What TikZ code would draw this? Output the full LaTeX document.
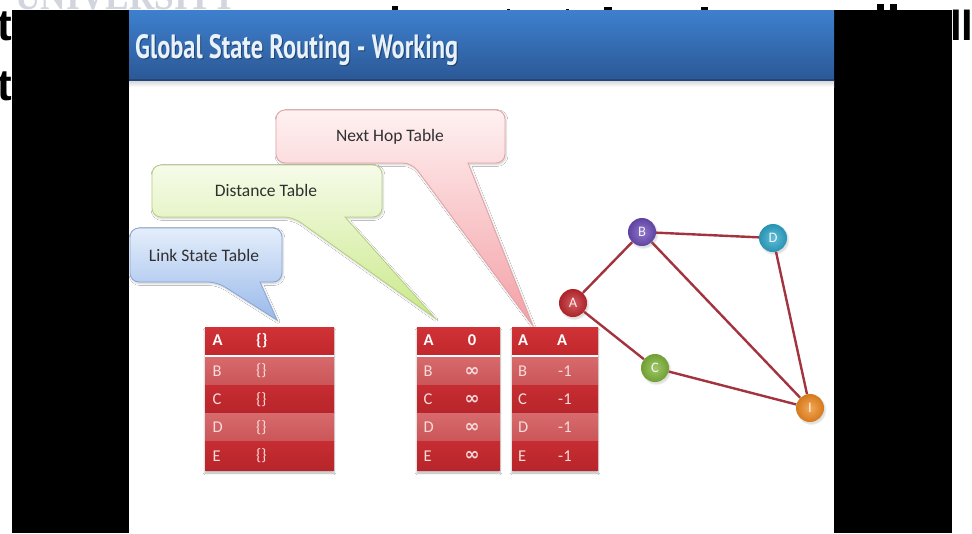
\documentclass[tikz,border=0pt]{standalone}
\usepackage{fontspec}
\setmainfont{Carlito}
\newfontfamily\titlefont{PT Sans}
\newfontfamily\bigfont{Liberation Sans}
\newfontfamily\wmfont{Liberation Serif}
\newfontfamily\symfont{DejaVu Sans}
\usetikzlibrary{shadows.blur}

\definecolor{barTop}{HTML}{3E80CE}
\definecolor{barMid}{HTML}{3570B9}
\definecolor{barBot}{HTML}{2B5896}
\definecolor{titleTxt}{HTML}{E8F2FB}
\definecolor{labelTxt}{HTML}{303030}
\definecolor{cellTxt}{HTML}{F7DCDC}
\definecolor{hdrTop}{HTML}{D03236}
\definecolor{hdrBot}{HTML}{C2282D}
\definecolor{lightTop}{HTML}{D76A6C}
\definecolor{lightBot}{HTML}{CA5558}
\definecolor{darkTop}{HTML}{C62D32}
\definecolor{darkBot}{HTML}{B7252A}
\definecolor{edgeRed}{HTML}{A3343F}
\definecolor{nodeA}{HTML}{C3272D}
\definecolor{nodeB}{HTML}{6B4BB8}
\definecolor{nodeC}{HTML}{7FB539}
\definecolor{nodeD}{HTML}{2DA7CB}
\definecolor{nodeI}{HTML}{F18A1F}
\definecolor{wmGray}{HTML}{D2D5DE}
\definecolor{pinkLine}{HTML}{E3A0A3}
\definecolor{pinkTop}{HTML}{FFF1F1}
\definecolor{pinkMid}{HTML}{FACDCE}
\definecolor{pinkBot}{HTML}{F3A0A6}
\definecolor{greenLine}{HTML}{B5CF7E}
\definecolor{greenTop}{HTML}{F6FBE9}
\definecolor{greenMid}{HTML}{E1F2B8}
\definecolor{greenBot}{HTML}{CAE98A}
\definecolor{blueLine}{HTML}{86A5D6}
\definecolor{blueTop}{HTML}{E4EEFB}
\definecolor{blueMid}{HTML}{BCD2F2}
\definecolor{blueBot}{HTML}{9AB9EA}

\begin{document}
\begin{tikzpicture}[x=1pt,y=-1pt,
  callout/.style={line width=0.8pt,
    blur shadow={shadow xshift=1pt,shadow yshift=-1.5pt,shadow opacity=20,shadow blur steps=6}},
  calltext/.style={font=\fontsize{17.5}{20}\selectfont, text=labelTxt, inner sep=0pt},
  tablebg/.style={fill=darkBot, draw=none,
    blur shadow={shadow xshift=0pt,shadow yshift=-3pt,shadow opacity=30,shadow blur steps=6}},
  hdrrow/.style={rectangle, inner sep=0pt, draw=none, anchor=north west,
    top color=hdrTop, bottom color=hdrBot},
  row1/.style={rectangle, inner sep=0pt, draw=none, anchor=north west,
    top color=lightTop, bottom color=lightBot},
  row0/.style={rectangle, inner sep=0pt, draw=none, anchor=north west,
    top color=darkTop, bottom color=darkBot},
  hdrtext/.style={font=\fontsize{16.5}{18}\selectfont\bfseries, text=white, inner sep=0pt},
  celltext/.style={font=\fontsize{16.5}{18}\selectfont, text=cellTxt, inner sep=0pt},
  inftext/.style={font=\symfont\bfseries\fontsize{18}{20}\selectfont, text=cellTxt, inner sep=0pt},
  edge/.style={draw=edgeRed, line width=2.4pt},
  gnode/.style={circle, minimum size=28pt, inner sep=0pt, shading=radial,
    inner color=#1!75!white, outer color=#1!88!black, text=white!92!#1,
    font=\fontsize{14.5}{16}\selectfont,
    circular drop shadow={shadow xshift=1pt,shadow yshift=-1.5pt,opacity=0.25}},
]
\useasboundingbox (0,0) rectangle (972,533);
\clip (0,0) rectangle (972,533);
\fill[white] (0,0) rectangle (972,533);

% faint watermark along the top edge
\node[anchor=base west, inner sep=0pt, text=wmGray]
  (wm) at (15,9) {\resizebox{222pt}{26pt}{\wmfont\bfseries UNIVERSITY}};

% large black caption text around the frame
\node[anchor=base west, inner sep=0pt, font=\bigfont\bfseries\fontsize{44}{50}\selectfont]
  (capA) at (-3,40) {t};
\node[anchor=base west, inner sep=0pt, font=\bigfont\bfseries\fontsize{44}{50}\selectfont]
  (capB) at (-3,100) {t};
\node[anchor=base west, inner sep=0pt, font=\bigfont\bfseries\fontsize{42}{50}\selectfont]
  (capC) at (950,40) {ll};
\fill[black] (392,6) rectangle (398,10);
\fill[black] (507,8.5) rectangle (510,10);
\fill[black] (566,8.5) rectangle (569,10);
\fill[black] (604,7) rectangle (612,10);
\fill[black] (701,7) rectangle (708,10);
\fill[black] (877,4) rectangle (884,10);
\fill[black] (890,4) rectangle (897,10);

% black side bars
\fill[black] (12,10) rectangle (129,533);
\fill[black] (834,10) rectangle (952,533);

% slide
\fill[white] (129,10) rectangle (834,533);
\shade[top color=black!18, bottom color=white] (129,80) rectangle (834,87);
\shade[top color=barTop, middle color=barMid, bottom color=barBot] (129,10) rectangle (834,80);
\fill[barBot!80!black] (129,79) rectangle (834,80.5);

% slide title
\node[anchor=base west, inner sep=0pt, text=black!70!barBot, opacity=0.5] (titleShadow) at (136,59)
  {\resizebox{323pt}{24pt}{\titlefont\bfseries Global State Routing - Working}};
\node[anchor=base west, inner sep=0pt, text=titleTxt] (title) at (135,58)
  {\resizebox{323pt}{24pt}{\titlefont\bfseries Global State Routing - Working}};

% callouts
\path[callout, draw=pinkLine, top color=pinkTop, middle color=pinkMid, bottom color=pinkBot]
  [rounded corners=9pt] (468,163) -- (505,163) -- (505,110) -- (276,110) -- (276,163) -- (412,163)
  [sharp corners] -- (533,326) -- cycle;
\node[calltext] (nhLabel) at (390,137) {Next Hop Table};

\path[callout, draw=greenLine, top color=greenTop, middle color=greenMid, bottom color=greenBot]
  [rounded corners=9pt] (345,217) -- (382,217) -- (382,165) -- (152,165) -- (152,217) -- (293,217)
  [sharp corners] -- (435,318) -- cycle;
\node[calltext] (dtLabel) at (266,190) {Distance Table};

\path[callout, draw=blueLine, top color=blueTop, middle color=blueMid, bottom color=blueBot]
  [rounded corners=9pt] (260,282) -- (282,282) -- (282,228) -- (130,228) -- (130,282) -- (217,282)
  [sharp corners] -- (277,320) -- cycle;
\node[calltext] (lsLabel) at (204,255) {Link State Table};

% link state table
\fill[tablebg] (205,327) rectangle (334,470);
\fill[white] (205,354) rectangle (334,357);
\node[hdrrow, minimum width=129pt, minimum height=27pt] (lsA) at (205,327) {};
\node[hdrtext, anchor=west] (lsAk) at (212.5,340.5) {A};
\node[hdrtext, anchor=west] (lsAv) at (256,340.5) {\{\}};
\foreach \k/\y/\t in {B/357/1, C/385.25/0, D/413.5/1, E/441.75/0}{
  \node[row\t, minimum width=129pt, minimum height=28.25pt] (ls\k) at (205,\y) {};
  \node[celltext, anchor=west] (ls\k k) at (212.5,\y+14.1) {\k};
  \node[celltext, anchor=west] (ls\k v) at (256,\y+14.1) {\{\}};
}

% distance table
\fill[tablebg] (417,327) rectangle (500,470);
\fill[white] (417,354) rectangle (500,357);
\node[hdrrow, minimum width=83pt, minimum height=27pt] (dtA) at (417,327) {};
\node[hdrtext, anchor=west] (dtAk) at (423.5,340.5) {A};
\node[hdrtext] (dtAv) at (472,340.5) {0};
\foreach \k/\y/\t in {B/357/1, C/385.25/0, D/413.5/1, E/441.75/0}{
  \node[row\t, minimum width=83pt, minimum height=28.25pt] (dt\k) at (417,\y) {};
  \node[celltext, anchor=west] (dt\k k) at (423.5,\y+14.1) {\k};
  \node[inftext] (dt\k v) at (472,\y+14.6) {∞};
}

% next hop table
\fill[tablebg] (512,327) rectangle (598,470);
\fill[white] (512,354) rectangle (598,357);
\node[hdrrow, minimum width=86pt, minimum height=27pt] (nhA) at (512,327) {};
\node[hdrtext, anchor=west] (nhAk) at (518,340.5) {A};
\node[hdrtext, anchor=west] (nhAv) at (557,340.5) {A};
\foreach \k/\y/\t in {B/357/1, C/385.25/0, D/413.5/1, E/441.75/0}{
  \node[row\t, minimum width=86pt, minimum height=28.25pt] (nh\k) at (512,\y) {};
  \node[celltext, anchor=west] (nh\k k) at (518,\y+14.1) {\k};
  \node[celltext, anchor=west] (nh\k v) at (558,\y+14.1) {-1};
}

% network graph
\node[gnode=nodeB] (B) at (642,232) {B};
\node[gnode=nodeD] (D) at (773,238) {D};
\node[gnode=nodeA] (A) at (573,303) {A};
\node[gnode=nodeC] (C) at (655,368) {C};
\node[gnode=nodeI] (I) at (810,408) {I};
\draw[edge] (A) -- (B);
\draw[edge] (A) -- (C);
\draw[edge] (B) -- (D);
\draw[edge] (B) -- (I);
\draw[edge] (C) -- (I);
\draw[edge] (D) -- (I);
\end{tikzpicture}
\end{document}
